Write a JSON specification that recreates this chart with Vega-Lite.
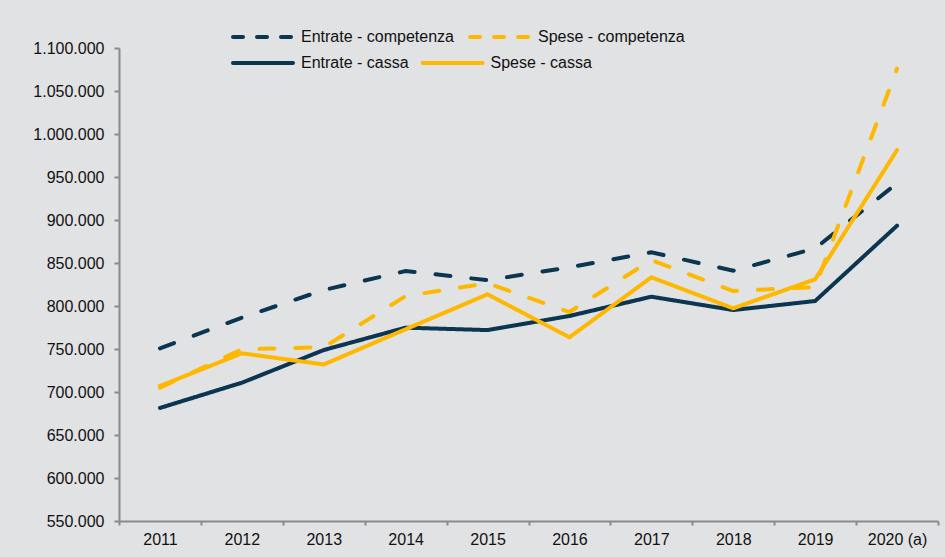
{
  "$schema": "https://vega.github.io/schema/vega-lite/v6.json",
  "autosize": {"type": "none"},
  "padding": {"left": 119, "top": 48, "right": 7, "bottom": 36},
  "width": 819,
  "height": 473,
  "background": "#e1e2e4",
  "config": {
    "view": {"stroke": null},
    "font": "Liberation Sans",
    "locale": {"number": {"decimal": ",", "thousands": ".", "grouping": [3], "currency": ["€", ""]}},
    "axis": {"labelFont": "Liberation Sans", "labelFontSize": 16, "labelColor": "#111111", "domainColor": "#8a8a8a", "tickColor": "#8a8a8a", "domainWidth": 2, "tickWidth": 2, "grid": false, "title": null},
    "legend": {"labelFont": "Liberation Sans", "labelFontSize": 16, "labelColor": "#111111", "labelOffset": 6, "labelLimit": 300, "symbolType": "stroke", "symbolSize": 3600, "symbolStrokeWidth": 4, "clipHeight": 16, "padding": 0}
  },
  "data": {
    "values": [
      {"anno": "2011", "serie": "Entrate - competenza", "valore": 750800},
      {"anno": "2012", "serie": "Entrate - competenza", "valore": 786500},
      {"anno": "2013", "serie": "Entrate - competenza", "valore": 818600},
      {"anno": "2014", "serie": "Entrate - competenza", "valore": 840700},
      {"anno": "2015", "serie": "Entrate - competenza", "valore": 830000},
      {"anno": "2016", "serie": "Entrate - competenza", "valore": 845000},
      {"anno": "2017", "serie": "Entrate - competenza", "valore": 862400},
      {"anno": "2018", "serie": "Entrate - competenza", "valore": 841000},
      {"anno": "2019", "serie": "Entrate - competenza", "valore": 867000},
      {"anno": "2020 (a)", "serie": "Entrate - competenza", "valore": 942700},
      {"anno": "2011", "serie": "Spese - competenza", "valore": 705000},
      {"anno": "2012", "serie": "Spese - competenza", "valore": 749700},
      {"anno": "2013", "serie": "Spese - competenza", "valore": 752000},
      {"anno": "2014", "serie": "Spese - competenza", "valore": 811600},
      {"anno": "2015", "serie": "Spese - competenza", "valore": 826400},
      {"anno": "2016", "serie": "Spese - competenza", "valore": 793000},
      {"anno": "2017", "serie": "Spese - competenza", "valore": 853500},
      {"anno": "2018", "serie": "Spese - competenza", "valore": 817400},
      {"anno": "2019", "serie": "Spese - competenza", "valore": 822000},
      {"anno": "2020 (a)", "serie": "Spese - competenza", "valore": 1076000},
      {"anno": "2011", "serie": "Entrate - cassa", "valore": 681400},
      {"anno": "2012", "serie": "Entrate - cassa", "valore": 710800},
      {"anno": "2013", "serie": "Entrate - cassa", "valore": 748800},
      {"anno": "2014", "serie": "Entrate - cassa", "valore": 774800},
      {"anno": "2015", "serie": "Entrate - cassa", "valore": 772000},
      {"anno": "2016", "serie": "Entrate - cassa", "valore": 788400},
      {"anno": "2017", "serie": "Entrate - cassa", "valore": 810800},
      {"anno": "2018", "serie": "Entrate - cassa", "valore": 795300},
      {"anno": "2019", "serie": "Entrate - cassa", "valore": 805800},
      {"anno": "2020 (a)", "serie": "Entrate - cassa", "valore": 893400},
      {"anno": "2011", "serie": "Spese - cassa", "valore": 707000},
      {"anno": "2012", "serie": "Spese - cassa", "valore": 745000},
      {"anno": "2013", "serie": "Spese - cassa", "valore": 732000},
      {"anno": "2014", "serie": "Spese - cassa", "valore": 773000},
      {"anno": "2015", "serie": "Spese - cassa", "valore": 813600},
      {"anno": "2016", "serie": "Spese - cassa", "valore": 763600},
      {"anno": "2017", "serie": "Spese - cassa", "valore": 833400},
      {"anno": "2018", "serie": "Spese - cassa", "valore": 797300},
      {"anno": "2019", "serie": "Spese - cassa", "valore": 831000},
      {"anno": "2020 (a)", "serie": "Spese - cassa", "valore": 981400}
    ]
  },
  "mark": {"type": "line", "strokeWidth": 4, "strokeCap": "round"},
  "encoding": {
    "x": {
      "field": "anno", "type": "nominal", "sort": null,
      "scale": {"paddingInner": 0, "paddingOuter": 0},
      "axis": {"labelAngle": 0, "tickBand": "extent", "tickSize": 4, "labelPadding": 6}
    },
    "y": {
      "field": "valore", "type": "quantitative",
      "scale": {"domain": [550000, 1100000], "nice": false, "zero": false},
      "axis": {"values": [550000, 600000, 650000, 700000, 750000, 800000, 850000, 900000, 950000, 1000000, 1050000, 1100000], "format": ",d", "tickSize": 5, "labelPadding": 10}
    },
    "color": {
      "field": "serie", "type": "nominal",
      "scale": {"domain": ["Entrate - competenza", "Spese - competenza", "Entrate - cassa", "Spese - cassa"], "range": ["#0b3550", "#ffb800", "#0b3550", "#ffb800"]},
      "legend": {
        "title": null, "orient": "none", "direction": "horizontal", "legendX": 112, "legendY": -19,
        "values": ["Entrate - competenza", "Spese - competenza"], "columnPadding": 14,
        "encode": {"symbols": {"update": {"strokeCap": {"value": "round"}, "strokeDash": {"value": [10, 14]}}}}
      }
    },
    "strokeDash": {
      "field": "serie", "type": "nominal",
      "scale": {"domain": ["Entrate - cassa", "Spese - cassa", "Entrate - competenza", "Spese - competenza"], "range": [[1, 0], [1, 0], [15, 21], [15, 21]]},
      "legend": {
        "title": null, "orient": "none", "direction": "horizontal", "legendX": 112, "legendY": 7,
        "values": ["Entrate - cassa", "Spese - cassa"], "columnPadding": 11.5,
        "encode": {"symbols": {"update": {"strokeCap": {"value": "round"}, "stroke": {"signal": "indexof(datum.value, 'Entrate') >= 0 ? '#0b3550' : '#ffb800'"}, "strokeDash": {"value": [1, 0]}}}}
      }
    }
  }
}
